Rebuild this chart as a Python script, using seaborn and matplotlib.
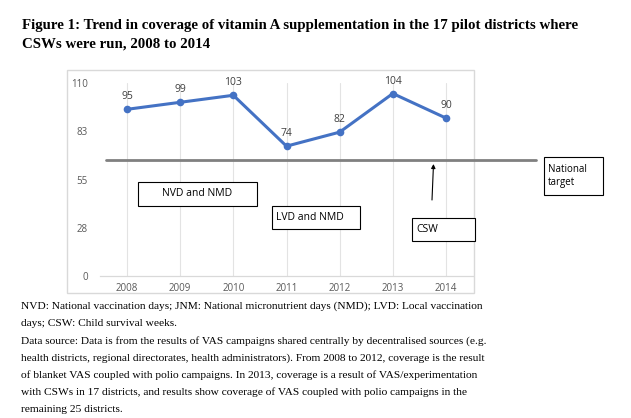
import matplotlib
matplotlib.use("Agg")
import matplotlib.pyplot as plt
import matplotlib.transforms as mtransforms
from matplotlib.patches import Rectangle
from matplotlib.lines import Line2D
import seaborn as sns
import pandas as pd

# chart data
years = [2008, 2009, 2010, 2011, 2012, 2013, 2014]
coverage = [95, 99, 103, 74, 82, 104, 90]
national_target = 66
y_ticks = [0, 27.5, 55, 82.5, 110]
y_tick_labels = ["0", "28", "55", "83", "110"]

title_lines = [
    "Figure 1: Trend in coverage of vitamin A supplementation in the 17 pilot districts where",
    "CSWs were run, 2008 to 2014",
]
note_lines = [
    "NVD: National vaccination days; JNM: National micronutrient days (NMD); LVD: Local vaccination",
    "days; CSW: Child survival weeks.",
    "Data source: Data is from the results of VAS campaigns shared centrally by decentralised sources (e.g.",
    "health districts, regional directorates, health administrators). From 2008 to 2012, coverage is the result",
    "of blanket VAS coupled with polio campaigns. In 2013, coverage is a result of VAS/experimentation",
    "with CSWs in 17 districts, and results show coverage of VAS coupled with polio campaigns in the",
    "remaining 25 districts.",
]

sns.set_theme(style="white")
plt.rcParams["font.family"] = ["Open Sans", "DejaVu Sans"]

W, H = 631, 418
fig = plt.figure(figsize=(W / 100, H / 100), dpi=100)
fig.patch.set_facecolor("white")


def fx(x):
    return x / W


def fy(y):
    return 1 - y / H


ax = fig.add_axes([fx(100.4), fy(276), (472.6 - 100.4) / W, (276 - 83) / H])

df = pd.DataFrame({"year": years, "coverage": coverage})
sns.lineplot(data=df, x="year", y="coverage", marker="o", color="#4472C4",
             linewidth=2.2, markersize=5.5, markeredgewidth=0, ax=ax, zorder=3)

for x, v in zip(years, coverage):
    ax.annotate(str(v), (x, v), xytext=(0, 9), textcoords="offset points",
                ha="center", va="center", fontsize=7.5, color="#404040")

ax.set_xlim(2007.5, 2014.5)
ax.set_ylim(0, 110)
ax.set_xticks(years)
ax.set_xticklabels([str(y) for y in years])
ax.set_yticks(y_ticks)
ax.set_yticklabels(y_tick_labels)
ax.set_xlabel("")
ax.set_ylabel("")
ax.grid(axis="x", color="#E3E3E3", linewidth=0.8)
ax.grid(axis="y", visible=False)
for side in ["top", "left", "right"]:
    ax.spines[side].set_visible(False)
ax.spines["bottom"].set_color("#D9D9D9")
ax.spines["bottom"].set_linewidth(0.9)
ax.tick_params(axis="y", length=0, pad=9, labelsize=7, labelcolor="#595959")
ax.tick_params(axis="x", length=0, pad=5, labelsize=7, labelcolor="#595959")
ax.set_facecolor("white")

# outer chart border
fig.patches.append(Rectangle((fx(67), fy(293)), (474 - 67) / W, (293 - 70) / H,
                             transform=fig.transFigure, fill=False,
                             ec="#D9D9D9", lw=1, zorder=0))

# national target line
blend = mtransforms.blended_transform_factory(fig.transFigure, ax.transData)
fig.add_artist(Line2D([fx(105.7), fx(536)], [national_target, national_target],
                      transform=blend, color="#808080", lw=2, zorder=2))


def box(x0, y0, x1, y1, text, size=7.5, ha="center"):
    fig.patches.append(Rectangle((fx(x0), fy(y1)), (x1 - x0) / W, (y1 - y0) / H,
                                 transform=fig.transFigure, fc="white",
                                 ec="black", lw=0.8, zorder=4))
    tx = (x0 + x1) / 2 if ha == "center" else x0 + 4
    fig.text(fx(tx), fy((y0 + y1) / 2), text, ha=ha, va="center",
             fontsize=size, color="black", zorder=5, linespacing=1.35)


box(138, 182, 257, 206, "NVD and NMD")
box(272, 206, 360, 229, "LVD and NMD", ha="left")
box(412, 218, 475, 241, "CSW", ha="left")
box(544, 157, 603, 195, "National\ntarget", size=7, ha="left")

# arrow to target line
ax.annotate("", xy=(433.5, H - 164), xytext=(432, H - 200),
            xycoords="figure pixels", textcoords="figure pixels",
            arrowprops=dict(arrowstyle="-|>", color="black", lw=0.8,
                            mutation_scale=6, shrinkA=0, shrinkB=0))

# title and notes
for i, line in enumerate(title_lines):
    fig.text(fx(22), fy(25 + i * 19), line, ha="left", va="center",
             fontsize=10.75, fontweight="bold", family=["Liberation Serif"],
             color="black")

for i, line in enumerate(note_lines):
    fig.text(fx(21), fy(306 + i * 17.3), line, ha="left", va="center",
             fontsize=8.2, family=["Liberation Serif"], color="black")

fig.savefig("out.png", dpi=100)
